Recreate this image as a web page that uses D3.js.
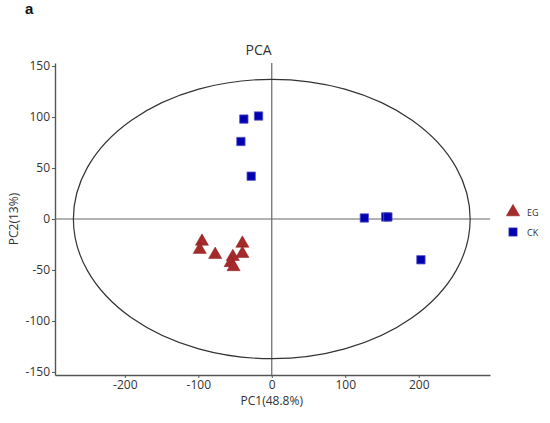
<!DOCTYPE html>
<html>
<head>
<meta charset="utf-8">
<script src="https://cdn.jsdelivr.net/npm/d3@7"></script>
<style>
  body { margin: 0; background: #fff; }
  text { font-family: "Open Sans", sans-serif; fill: #333; }
</style>
</head>
<body>
<div id="chart"></div>
<script>
// Data
const egPC1 = [-95, -98, -77, -40, -40, -53, -56, -52];
const egPC2 = [-22, -30, -35, -24, -34, -37, -43, -47];
const ckPC1 = [-38, -18, -42, -28, 126, 155, 158, 203];
const ckPC2 = [98, 101, 76, 42, 1, 2, 2, -40];
const xTicks = [-200, -100, 0, 100, 200];
const yTicks = [-150, -100, -50, 0, 50, 100, 150];
const ellipseRadii = [270, 137];
const groups = ['EG', 'CK'];

const width = 550, height = 423;
const margin = { top: 63, left: 55, right: 60, bottom: 48 };

const colors = g => ({ EG: '#a52a2a', CK: '#0000b0' }[g]);

const svg = d3.select('#chart').append('svg')
  .attr('width', width).attr('height', height);

const xScale = d3.scaleLinear().domain([-295, 297])
  .range([margin.left, width - margin.right]);
const yScale = d3.scaleLinear().domain([-153, 153])
  .range([height - margin.bottom, margin.top]);

// Panel letter and title
svg.append('text').attr('x', 25).attr('y', 14)
  .style('font-size', '15px').style('font-weight', 'bold').style('fill', '#111')
  .style('font-family', 'Arial, "Liberation Sans", sans-serif').text('a');
svg.append('text').attr('x', xScale(-18)).attr('y', 55)
  .attr('text-anchor', 'middle').style('font-size', '14px').text('PCA');

// Axes (plain hyphen for negatives, as in the original)
const fmt = d => String(d);
const xAxis = d3.axisBottom(xScale).tickValues(xTicks).tickFormat(fmt)
  .tickSize(3).tickPadding(2).tickSizeOuter(0);
const yAxis = d3.axisLeft(yScale).tickValues(yTicks).tickFormat(fmt)
  .tickSize(3).tickPadding(2).tickSizeOuter(0);

const gx = svg.append('g')
  .attr('transform', `translate(0, ${height - margin.bottom})`).call(xAxis);
const gy = svg.append('g')
  .attr('transform', `translate(${margin.left}, 0)`).call(yAxis);

[gx, gy].forEach(g => {
  g.select('.domain').attr('stroke', '#555').attr('stroke-width', 1.4);
  g.selectAll('.tick line').attr('stroke', '#555');
  g.selectAll('.tick text').style('font-size', '12px').style('fill', '#333')
    .style('font-family', '"Open Sans", sans-serif');
});

// Zero lines
svg.append('line')
  .attr('x1', xScale(0)).attr('x2', xScale(0))
  .attr('y1', yScale(153)).attr('y2', yScale(-153))
  .attr('stroke', '#666').attr('stroke-width', 1.2);
svg.append('line')
  .attr('x1', xScale(-295)).attr('x2', xScale(297))
  .attr('y1', yScale(0)).attr('y2', yScale(0))
  .attr('stroke', '#666').attr('stroke-width', 1.2);

// Confidence ellipse
svg.append('ellipse')
  .attr('cx', xScale(0)).attr('cy', yScale(0))
  .attr('rx', xScale(ellipseRadii[0]) - xScale(0))
  .attr('ry', yScale(0) - yScale(ellipseRadii[1]))
  .attr('fill', 'none').attr('stroke', '#333').attr('stroke-width', 1.2);

// Axis labels
svg.append('text').attr('x', xScale(0)).attr('y', 405)
  .attr('text-anchor', 'middle').style('font-size', '12px').text('PC1(48.8%)');
svg.append('text').attr('transform', `translate(18, ${yScale(0)}) rotate(-90)`)
  .attr('text-anchor', 'middle').style('font-size', '12px').text('PC2(13%)');

// Points
const tri = d3.symbol().type(d3.symbolTriangle).size(75);
const sq = d3.symbol().type(d3.symbolSquare).size(70);

svg.append('g').selectAll('path.eg')
  .data(egPC1.map((v, i) => [v, egPC2[i]]))
  .enter().append('path')
  .attr('class', 'eg')
  .attr('d', tri)
  .attr('transform', d => `translate(${xScale(d[0])}, ${yScale(d[1])})`)
  .attr('fill', colors('EG')).attr('stroke', '#8a1e1e').attr('stroke-width', 0.5);

svg.append('g').selectAll('path.ck')
  .data(ckPC1.map((v, i) => [v, ckPC2[i]]))
  .enter().append('path')
  .attr('class', 'ck')
  .attr('d', sq)
  .attr('transform', d => `translate(${xScale(d[0])}, ${yScale(d[1])})`)
  .attr('fill', colors('CK')).attr('stroke', '#5555cc').attr('stroke-width', 0.8);

// Legend
const legend = svg.append('g').attr('transform', 'translate(513, 212)');
groups.forEach((g, i) => {
  const row = legend.append('g').attr('transform', `translate(0, ${i * 20})`);
  row.append('path')
    .attr('d', g === 'EG' ? tri : sq)
    .attr('fill', colors(g))
    .attr('stroke', g === 'EG' ? '#8a1e1e' : '#5555cc').attr('stroke-width', 0.6);
  row.append('text').attr('x', 14).attr('y', 4)
    .style('font-size', '9px').text(g);
});
</script>
</body>
</html>
